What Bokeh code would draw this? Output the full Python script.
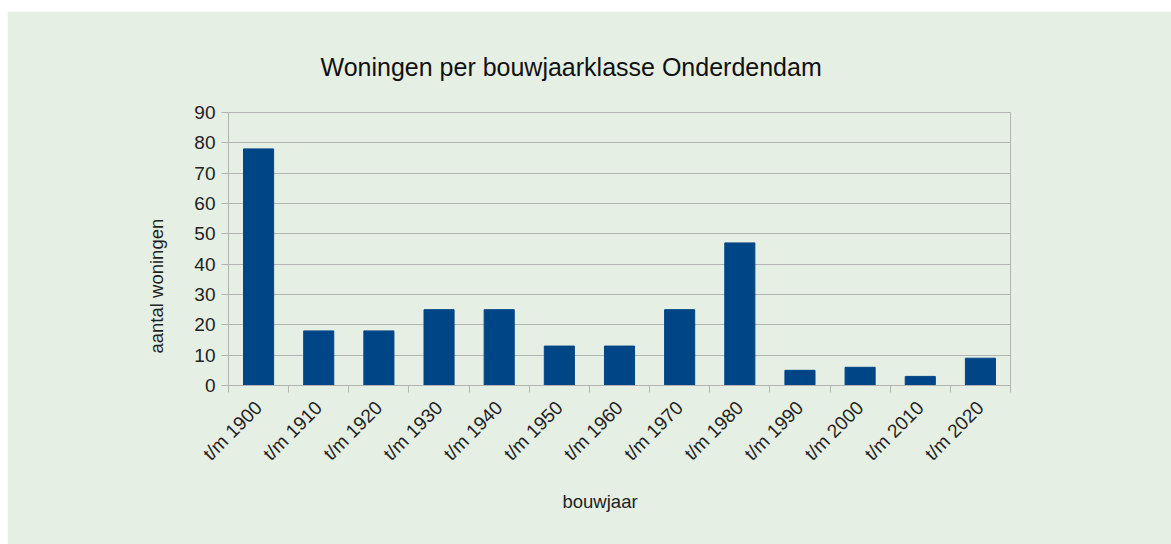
import math
from bokeh.plotting import figure
from bokeh.models import Range1d, FixedTicker, Title, Spacer
from bokeh.layouts import column, row
from bokeh.embed import file_html
from bokeh.resources import INLINE

categories = ["t/m 1900", "t/m 1910", "t/m 1920", "t/m 1930", "t/m 1940", "t/m 1950",
              "t/m 1960", "t/m 1970", "t/m 1980", "t/m 1990", "t/m 2000", "t/m 2010", "t/m 2020"]
values = [78, 18, 18, 25, 25, 13, 13, 25, 47, 5, 6, 3, 9]
y_ticks = [0, 10, 20, 30, 40, 50, 60, 70, 80, 90]
title_text = "Woningen per bouwjaarklasse Onderdendam"
x_title = "bouwjaar"
y_title = "aantal woningen"

BG = "#e5efe4"
GRID = "#b3b3b3"
BAR = "#004586"
FONT = "Liberation Sans"
TXT = "#222222"

n = len(categories)
centers = [i + 0.5 for i in range(n)]
bounds = list(range(n + 1))

p = figure(frame_width=782, frame_height=273,
           x_range=Range1d(0, n), y_range=Range1d(0, 90),
           output_backend="svg", toolbar_location=None,
           min_border_left=221, min_border_right=161,
           min_border_top=101, min_border_bottom=159)
p.background_fill_color = BG
p.border_fill_color = BG
p.outline_line_color = GRID

p.vbar(x=centers, top=values, width=0.5, fill_color=BAR, line_color=BAR)

# x axis
xa = p.xaxis[0]
xa.ticker = FixedTicker(ticks=centers, minor_ticks=bounds)
xa.major_label_overrides = {c: lab for c, lab in zip(centers, categories)}
xa.major_label_orientation = math.pi / 4
xa.major_tick_line_color = None
xa.major_tick_out = 0
xa.major_tick_in = 0
xa.minor_tick_line_color = GRID
xa.minor_tick_out = 7
xa.minor_tick_in = 0
xa.axis_line_color = GRID
xa.major_label_text_font = FONT
xa.major_label_text_font_size = "19px"
xa.major_label_text_color = TXT
xa.major_label_standoff = 12

# y axis
ya = p.yaxis[0]
ya.ticker = FixedTicker(ticks=y_ticks)
ya.major_tick_line_color = GRID
ya.major_tick_out = 7
ya.major_tick_in = 0
ya.minor_tick_line_color = None
ya.axis_line_color = GRID
ya.major_label_text_font = FONT
ya.major_label_text_font_size = "19px"
ya.major_label_text_color = TXT
ya.major_label_standoff = 6

p.xgrid.grid_line_color = None
p.ygrid.grid_line_color = GRID
p.ygrid.ticker = FixedTicker(ticks=y_ticks)

p.title = Title(text=title_text, align="left", offset=92, standoff=64,
                text_font=FONT, text_font_size="25px", text_font_style="normal",
                text_color="#111111")
p.add_layout(Title(text=y_title, align="left", offset=32, standoff=50,
                   text_font=FONT, text_font_size="18.5px", text_font_style="normal",
                   text_color=TXT), "left")
p.add_layout(Title(text=x_title, align="left", offset=334, standoff=29,
                   text_font=FONT, text_font_size="18.5px", text_font_style="normal",
                   text_color=TXT), "below")

layout = row(Spacer(width=7, height=544), column(Spacer(width=1164, height=11), p))
open("out.html", "w").write(file_html(layout, INLINE))
